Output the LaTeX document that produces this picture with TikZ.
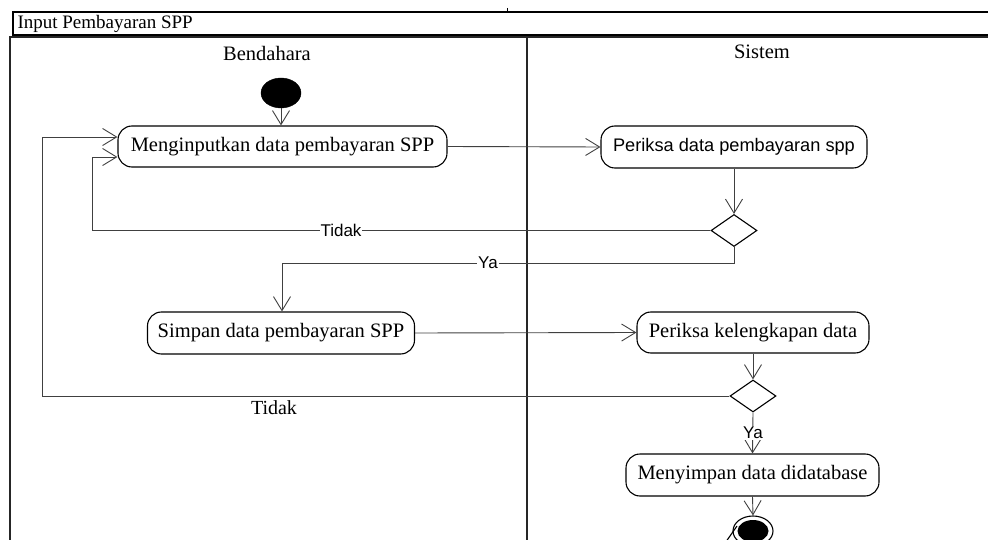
\documentclass[tikz,border=0pt]{standalone}
\usepackage{fontspec}
\setmainfont{Liberation Serif}
\newfontfamily\arialfont{Liberation Sans}
\usetikzlibrary{arrows.meta,shapes.geometric}

\tikzset{
  act/.style={draw, rounded corners=14pt, inner sep=0pt, line width=1.1pt,
    font=\fontsize{20.5}{24}\selectfont},
  actsans/.style={act, font=\arialfont\fontsize{18.2}{21}\selectfont},
  decision/.style={draw, diamond, inner sep=0pt, line width=1.1pt,
    minimum width=46pt, minimum height=32pt},
  flow/.style={draw=black!75, line width=0.9pt,
    -{Straight Barb[length=14pt,width=17pt,line width=0.9pt]}},
  guardsans/.style={fill=white, inner sep=1pt,
    font=\arialfont\fontsize{17}{19}\selectfont},
  guardserif/.style={inner sep=0pt, font=\fontsize{20}{23}\selectfont},
  lane/.style={line width=2pt, draw=black!85},
  lanetitle/.style={font=\fontsize{20.5}{23}\selectfont},
}

\begin{document}
\begin{tikzpicture}[x=1pt,y=-1pt]
\useasboundingbox (0,0) rectangle (988,540);

% frame: title bar and swimlanes
\draw[line width=1.2pt] (1000,12) -- (13,12) -- (13,35) -- (1000,35);
\draw[line width=1pt] (507,8) -- (507,12);
\node[anchor=west, font=\fontsize{19}{21}\selectfont] (title) at (14,23.5) {Input Pembayaran SPP};
\draw[lane] (9.5,560) -- (9.5,37) -- (1000,37);
\draw[lane] (527,37) -- (527,560);
\node[lanetitle] (laneA) at (267,53) {Bendahara};
\node[lanetitle] (laneB) at (762,52) {Sistem};

% activities
\node[draw, ellipse, fill=black, minimum width=40pt, minimum height=30pt, inner sep=0pt] (start) at (281,93) {};
\node[act, minimum width=329pt, minimum height=41pt] (n1) at (282.5,146.5) {Menginputkan data pembayaran SPP};
\node[actsans, minimum width=266pt, minimum height=42pt] (n2) at (734,147) {Periksa data pembayaran spp};
\node[decision] (d1) at (734,230.5) {};
\node[act, minimum width=267pt, minimum height=42pt] (n3) at (281,333) {Simpan data pembayaran SPP};
\node[act, minimum width=232pt, minimum height=41pt] (n4) at (753,332.5) {Periksa kelengkapan data};
\node[decision] (d2) at (753,396) {};
\node[act, minimum width=253pt, minimum height=42pt] (n5) at (752.5,475) {Menyimpan data didatabase};

% final state
\node[draw, ellipse, line width=1.1pt, minimum width=40pt, minimum height=30pt, inner sep=0pt] (final) at (753,531) {};
\node[ellipse, fill=black, minimum width=31pt, minimum height=22pt, inner sep=0pt] (finalin) at (final.center) {};
\coordinate (tailA) at (723,546);
\coordinate (tailB) at (737,526);
\draw[line width=1.1pt] (tailA) -- (tailB);

% bend points
\coordinate (b1) at (92,157);
\coordinate (b2) at (282,263);
\coordinate (b3) at (42,137);

% flows
\draw[flow] (start) -- (start |- n1.north);
\draw[flow] (n1.east) -- (n2.west);
\draw[flow] (n2.south) -- (d1.north);
\draw[flow] (d1.west) -| (b1) -- (b1 -| n1.west);
\node[guardsans] (g1) at (341,230.5) {Tidak};
\draw[flow] (d1.south) |- (b2) -- (b2 |- n3.north);
\node[guardsans] (g2) at (488,263) {Ya};
\draw[flow] (n3.east) -- (n4.west);
\draw[flow] (n4.south) -- (d2.north);
\draw[flow] (d2.west) -| (b3) -- (b3 -| n1.west);
\node[guardserif] (g3) at (274,408) {Tidak};
\draw[flow] (d2.south) -- (n5.north);
\node[guardsans] (g4) at (753,433) {Ya};
\draw[flow] (n5.south) -- (final.north);
\end{tikzpicture}
\end{document}
